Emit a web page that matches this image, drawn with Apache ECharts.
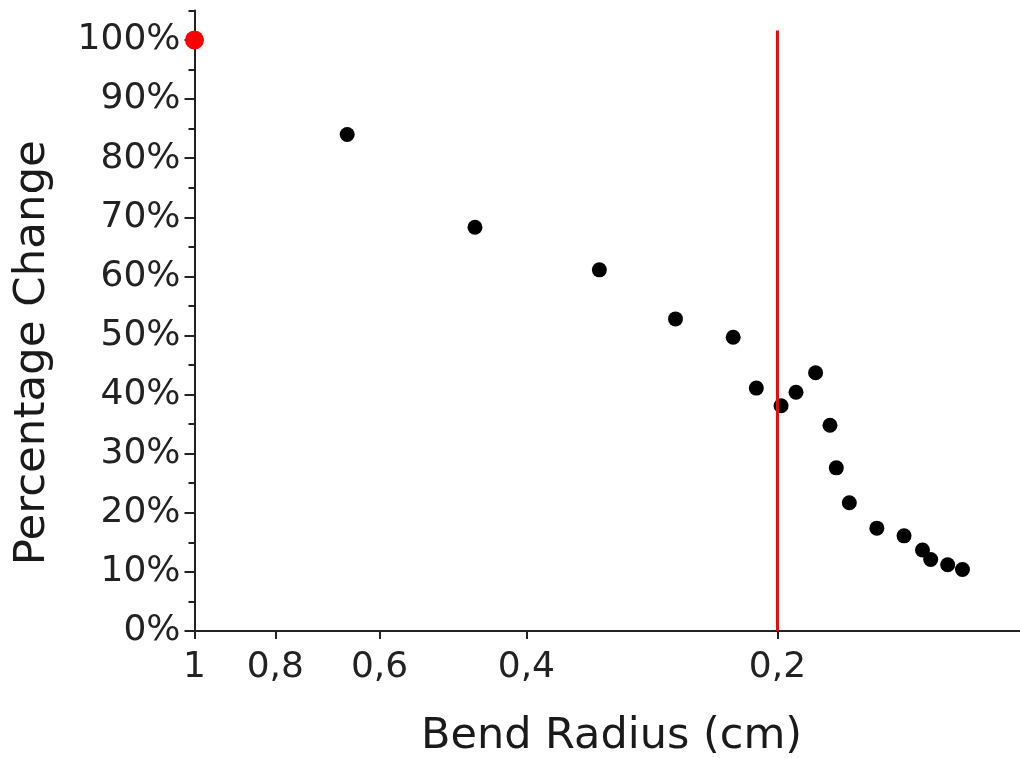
<!DOCTYPE html>
<html>
<head>
<meta charset="utf-8">
<script src="https://cdn.jsdelivr.net/npm/echarts@6/dist/echarts.min.js"></script>
<style>
html,body{margin:0;padding:0;background:#fff;}
#chart{width:1020px;height:758px;}
</style>
</head>
<body>
<div id="chart"></div>
<script>
// Data
var bendRadius = [0.656, 0.461, 0.327, 0.265, 0.226, 0.212, 0.198, 0.190, 0.180, 0.173, 0.170, 0.164, 0.152, 0.141, 0.134, 0.131, 0.125, 0.120];
var percentChange = [0.840, 0.683, 0.611, 0.528, 0.497, 0.411, 0.381, 0.404, 0.437, 0.348, 0.276, 0.217, 0.174, 0.161, 0.137, 0.121, 0.112, 0.104];
var refRadius = [1];
var refChange = [1.0];
var thresholdRadius = 0.2;
var thresholdSpan = [0, 1.016];
var xTickValues = [1, 0.8, 0.6, 0.4, 0.2];
var yTickValues = [0, 0.1, 0.2, 0.3, 0.4, 0.5, 0.6, 0.7, 0.8, 0.9, 1.0];

var FONT = 'DejaVu Sans';
var chart = echarts.init(document.getElementById('chart'), null, {renderer: 'canvas'});

var option = {
  backgroundColor: '#fff',
  animation: false,
  grid: {left: 194.5, width: 834, top: 10.4, height: 620.6, containLabel: false, outerBoundsMode: 'none'},
  xAxis: {
    type: 'log',
    logBase: 10,
    min: 0.1,
    max: 1,
    inverse: true,
    name: 'Bend Radius (cm)',
    nameLocation: 'middle',
    nameGap: 84,
    nameTextStyle: {fontFamily: FONT, fontSize: 43, color: '#1a1a1a'},
    axisLine: {show: true, onZero: false, lineStyle: {color: '#222', width: 2}},
    axisTick: {show: true, length: 8, customValues: xTickValues, lineStyle: {color: '#222', width: 2}},
    minorTick: {show: false},
    splitLine: {show: false},
    axisLabel: {
      customValues: xTickValues,
      margin: 19,
      fontFamily: FONT, fontSize: 36, color: '#222',
      formatter: function (v) { return String(+v.toFixed(2)).replace('.', ','); }
    }
  },
  yAxis: [{
    type: 'value',
    min: 0, max: 1.05, interval: 0.05,
    name: 'Percentage Change',
    nameLocation: 'middle',
    nameGap: 140,
    nameRotate: 90,
    nameTextStyle: {fontFamily: FONT, fontSize: 43.5, color: '#1a1a1a', padding: [0, 64, 0, 0]},
    axisLine: {show: true, onZero: false, lineStyle: {color: '#222', width: 2}},
    axisTick: {show: true, length: 6, lineStyle: {color: '#222', width: 2}},
    splitLine: {show: false},
    axisLabel: {
      customValues: yTickValues,
      margin: 14,
      fontFamily: FONT, fontSize: 36, color: '#222',
      formatter: function (v) { return Math.round(v * 100) + '%'; }
    }
  }, {
    type: 'value',
    min: 0, max: 1.05,
    position: 'left',
    axisLine: {show: false},
    axisTick: {show: true, length: 10, customValues: yTickValues, lineStyle: {color: '#222', width: 2}},
    axisLabel: {show: false},
    splitLine: {show: false}
  }],
  series: [{
    type: 'scatter',
    data: bendRadius.map(function (r, i) { return [r, percentChange[i]]; }),
    symbol: 'circle',
    symbolSize: 15,
    itemStyle: {color: '#000', opacity: 1},
    z: 3
  }, {
    type: 'line',
    data: thresholdSpan.map(function (p) { return [thresholdRadius, p]; }),
    showSymbol: false,
    symbol: 'none',
    lineStyle: {color: '#ff0000', width: 3},
    z: 4
  }, {
    type: 'scatter',
    data: refRadius.map(function (r, i) { return [r, refChange[i]]; }),
    symbol: 'circle',
    symbolSize: 19,
    clip: false,
    itemStyle: {color: '#ff0000', opacity: 1},
    z: 5
  }]
};
chart.setOption(option);
</script>
</body>
</html>
